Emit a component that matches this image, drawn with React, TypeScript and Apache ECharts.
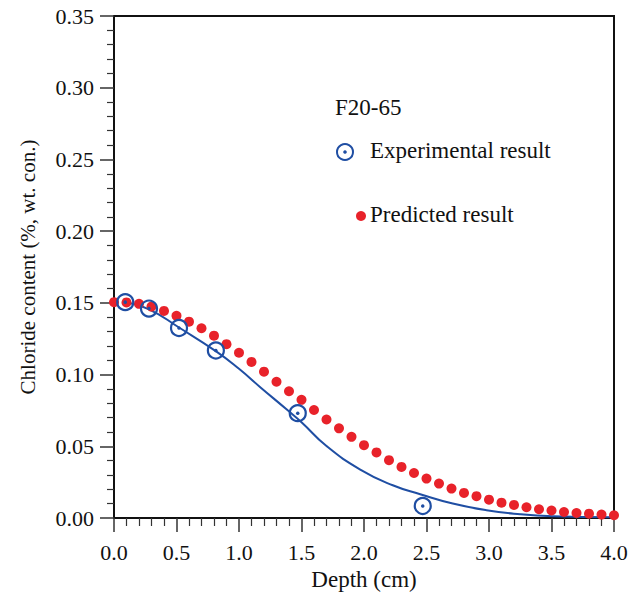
import React, { useEffect, useRef } from "react";
import * as echarts from "echarts";

const predDepth = [0.0, 0.1, 0.2, 0.3, 0.4, 0.5, 0.6, 0.7, 0.8, 0.9, 1.0, 1.1, 1.2, 1.3, 1.4, 1.5, 1.6, 1.7, 1.8, 1.9, 2.0, 2.1, 2.2, 2.3, 2.4, 2.5, 2.6, 2.7, 2.8, 2.9, 3.0, 3.1, 3.2, 3.3, 3.4, 3.5, 3.6, 3.7, 3.8, 3.9, 4.0];
const predValue = [0.1505, 0.1503, 0.1493, 0.1474, 0.1444, 0.141, 0.1369, 0.1323, 0.1271, 0.1212, 0.1152, 0.1088, 0.102, 0.095, 0.0884, 0.0824, 0.0753, 0.0687, 0.0625, 0.0566, 0.0508, 0.0457, 0.0403, 0.0356, 0.0314, 0.0275, 0.024, 0.0205, 0.0175, 0.0152, 0.0128, 0.0107, 0.0091, 0.0075, 0.0061, 0.0052, 0.0042, 0.0035, 0.003, 0.0024, 0.0019];

const expDepth = [0.09, 0.28, 0.52, 0.815, 1.47, 2.47];
const expValue = [0.1505, 0.146, 0.1325, 0.1168, 0.0731, 0.0084];

const fitDepth = [0.09, 0.28, 0.52, 0.82, 1.0, 1.17, 1.38, 1.5, 1.7, 1.97, 2.23, 2.45, 2.71, 2.98, 3.25, 3.51, 4.0];
const fitValue = [0.1505, 0.1455, 0.1328, 0.116, 0.104, 0.0912, 0.0758, 0.0668, 0.0502, 0.0338, 0.0228, 0.0166, 0.0101, 0.0054, 0.0026, 0.0012, 0.0005];

const FONT = "'Liberation Serif', 'Times New Roman', serif";
const BLUE = "#1f4ea3";
const RED = "#e8222a";
const INK = "#111111";

export default function App() {
  const ref = useRef<HTMLDivElement>(null);
  useEffect(() => {
    if (!ref.current) return;
    const chart = echarts.init(ref.current, undefined, { renderer: "svg" });
    const pred = predDepth.map((d, i) => [d, predValue[i]]);
    const exp = expDepth.map((d, i) => [d, expValue[i]]);
    const fit = fitDepth.map((d, i) => [d, fitValue[i]]);
    chart.setOption({
      animation: false,
      backgroundColor: "#ffffff",
      textStyle: { fontFamily: FONT },
      grid: {
        left: 114,
        right: 28,
        top: 16,
        bottom: 82,
        show: true,
        borderColor: INK,
        borderWidth: 2,
        backgroundColor: "transparent",
      },
      xAxis: {
        type: "value",
        min: 0,
        max: 4,
        interval: 0.5,
        name: "Depth (cm)",
        nameLocation: "middle",
        nameGap: 50,
        nameTextStyle: { fontFamily: FONT, fontSize: 23, color: INK },
        axisLine: { show: true, lineStyle: { color: INK, width: 2 } },
        axisTick: { show: true, length: 14, lineStyle: { color: "#333", width: 1.5 } },
        minorTick: { show: true, splitNumber: 5, length: 8, lineStyle: { color: "#333", width: 1.2 } },
        splitLine: { show: false },
        axisLabel: {
          fontFamily: FONT,
          fontSize: 22,
          color: INK,
          margin: 23,
          formatter: (v: number) => v.toFixed(1),
        },
      },
      yAxis: {
        type: "value",
        min: 0,
        max: 0.35,
        interval: 0.05,
        name: "Chloride content (%, wt. con.)",
        nameLocation: "middle",
        nameGap: 76,
        nameRotate: 90,
        nameTextStyle: { fontFamily: FONT, fontSize: 21, color: INK },
        axisLine: { show: true, lineStyle: { color: INK, width: 2 } },
        axisTick: { show: true, length: 14, lineStyle: { color: "#333", width: 1.5 } },
        minorTick: { show: true, splitNumber: 5, length: 7, lineStyle: { color: "#333", width: 1.2 } },
        splitLine: { show: false },
        axisLabel: {
          fontFamily: FONT,
          fontSize: 22,
          color: INK,
          margin: 20,
          formatter: (v: number) => v.toFixed(2),
        },
      },
      series: [
        {
          type: "line",
          data: fit,
          smooth: true,
          showSymbol: false,
          lineStyle: { color: BLUE, width: 2 },
          z: 2,
        },
        {
          type: "scatter",
          data: pred,
          symbol: "circle",
          symbolSize: 10,
          itemStyle: { color: RED, opacity: 1 },
          z: 3,
        },
        {
          type: "scatter",
          data: exp,
          symbol: "circle",
          symbolSize: 16,
          itemStyle: { color: "rgba(0,0,0,0)", borderColor: BLUE, borderWidth: 2.2, opacity: 1 },
          z: 4,
        },
        {
          type: "scatter",
          data: exp,
          symbol: "circle",
          symbolSize: 3.5,
          itemStyle: { color: BLUE, opacity: 1 },
          z: 5,
        },
      ],
      graphic: [
        {
          type: "text",
          left: 335,
          top: 96,
          style: { text: "F20-65", font: `23px ${FONT}`, fill: INK },
        },
        {
          type: "circle",
          shape: { cx: 345, cy: 152, r: 8 },
          style: { fill: "none", stroke: BLUE, lineWidth: 2 },
        },
        {
          type: "circle",
          shape: { cx: 345, cy: 152, r: 1.8 },
          style: { fill: BLUE },
        },
        {
          type: "text",
          left: 370,
          top: 139,
          style: { text: "Experimental result", font: `23px ${FONT}`, fill: INK },
        },
        {
          type: "circle",
          shape: { cx: 361, cy: 216, r: 5 },
          style: { fill: RED },
        },
        {
          type: "text",
          left: 370,
          top: 203,
          style: { text: "Predicted result", font: `23px ${FONT}`, fill: INK },
        },
      ],
    });
    return () => chart.dispose();
  }, []);
  return (
    <div
      ref={ref}
      style={{ position: "fixed", left: 0, top: 0, width: 642, height: 600, background: "#fff" }}
    />
  );
}
